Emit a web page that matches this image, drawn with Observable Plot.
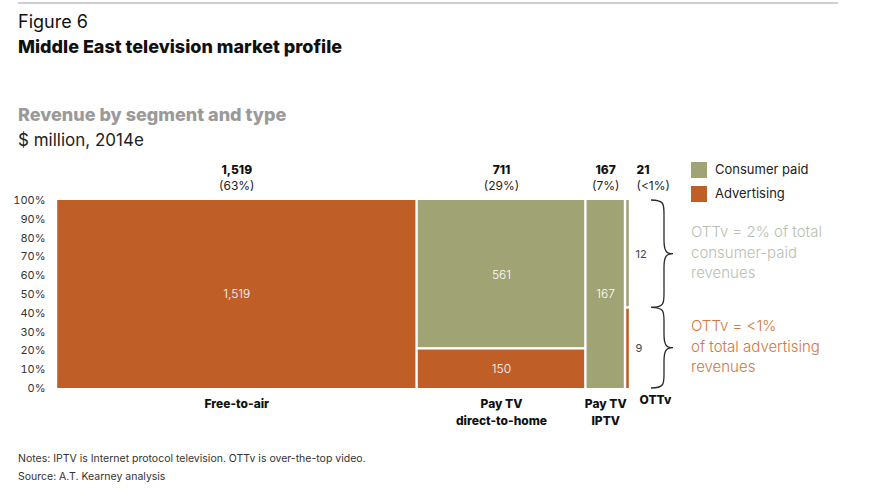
<!DOCTYPE html>
<html>
<head>
<meta charset="utf-8">
<script src="https://cdn.jsdelivr.net/npm/d3@7"></script>
<script src="https://cdn.jsdelivr.net/npm/@observablehq/plot@0.6"></script>
<style>
  body { margin: 0; background: #fff; font-family: Inter, "Noto Sans", sans-serif; color: #111; }
  #wrap { position: relative; width: 871px; height: 491px; overflow: hidden; }
  #chart { position: absolute; left: 0; top: 0; }
  .abs { position: absolute; white-space: nowrap; line-height: 1; }
  .rule { position: absolute; left: 18px; top: 2px; width: 820px; height: 2px; background: #cfcfcf; }
  .fig { left: 18px; top: 13px; font-size: 18px; }
  .title { left: 18px; top: 38px; font-size: 18px; font-weight: 800; }
  .sub { left: 18px; top: 106px; font-size: 18px; font-weight: 800; color: #9a9a9a; }
  .unit { left: 18px; top: 132px; font-size: 17px; color: #222; }
  .sw { position: absolute; width: 16px; height: 16px; }
  .leg { font-size: 13px; color: #222; }
  .note { font-size: 10.5px; color: #333; left: 18px; }
  .ann { font-size: 15px; font-weight: 300; line-height: 20.5px; left: 691px; }
</style>
</head>
<body>
<div id="wrap">
  <div id="chart"></div>
  <div class="rule"></div>
  <div class="abs fig">Figure 6</div>
  <div class="abs title">Middle East television market profile</div>
  <div class="abs sub">Revenue by segment and type</div>
  <div class="abs unit">$ million, 2014e</div>

  <div class="sw" style="left:691px;top:162px;background:#a0a374"></div>
  <div class="abs leg" style="left:715px;top:163px">Consumer paid</div>
  <div class="sw" style="left:691px;top:186px;background:#c05e28"></div>
  <div class="abs leg" style="left:715px;top:187px">Advertising</div>

  <div class="abs ann" style="top:222px;color:#b9beb2">OTTv = 2% of total<br>consumer-paid<br>revenues</div>
  <div class="abs ann" style="top:316px;color:#d2773f">OTTv = &lt;1%<br>of total advertising<br>revenues</div>

  <div class="abs note" style="top:454px">Notes: IPTV is Internet protocol television. OTTv is over-the-top video.</div>
  <div class="abs note" style="top:472px">Source: A.T. Kearney analysis</div>
</div>
<script>
// Revenue by TV segment, $ million (2014e)
const segments = ["Free-to-air", "Pay TV\ndirect-to-home", "Pay TV\nIPTV", "OTTv"];
const consumerPaid = [0, 561, 167, 12];
const advertising = [1519, 150, 0, 9];
const shareLabels = ["63%", "29%", "7%", "<1%"];
const yTicks = [0, 0.1, 0.2, 0.3, 0.4, 0.5, 0.6, 0.7, 0.8, 0.9, 1];

const colors = {consumer: "#a0a374", advertising: "#c05e28"};

// Marimekko layout: column width = segment total, height split by revenue type
let start = 0;
const columns = segments.map((name, i) => {
  const total = consumerPaid[i] + advertising[i];
  const col = {
    i, name, total,
    x1: start, x2: start + total, xm: start + total / 2,
    consumer: consumerPaid[i], advertising: advertising[i],
    adShare: advertising[i] / total,
    share: shareLabels[i]
  };
  start += total;
  return col;
});
const grandTotal = start;
const fmt = d3.format(",");

const cells = [];
for (const c of columns) {
  if (c.advertising > 0) cells.push({...c, type: "advertising", y1: 0, y2: c.adShare, value: c.advertising, split: c.consumer > 0});
  if (c.consumer > 0) cells.push({...c, type: "consumer", y1: c.adShare, y2: 1, value: c.consumer, split: c.advertising > 0});
}
const inner = cells.filter(d => d.i < 3);
const ottCells = cells.filter(d => d.i === 3);
const mainCols = columns.filter(d => d.i < 3);
const ottCol = columns.filter(d => d.i === 3);

// Curly braces next to the OTTv column, one per revenue type
function braces(index, scales, values, dimensions) {
  const c = ottCol[0];
  const x0 = scales.x(c.x2) + 21;
  const spans = [[scales.y(1), scales.y(c.adShare)], [scales.y(c.adShare), scales.y(0)]];
  const g = d3.create("svg:g").attr("fill", "none").attr("stroke", "#2a2a2a").attr("stroke-width", 1.3);
  for (const [ya, yb] of spans) {
    const ym = (ya + yb) / 2, x1 = x0 + 13, x2 = x0 + 22, r = 14;
    g.append("path").attr("d",
      `M${x0},${ya} C${x1},${ya} ${x1},${ya + 4} ${x1},${ya + r}` +
      ` L${x1},${ym - r} C${x1},${ym - 3} ${x1 + 2},${ym} ${x2},${ym}` +
      ` C${x1 + 2},${ym} ${x1},${ym + 3} ${x1},${ym + r}` +
      ` L${x1},${yb - r} C${x1},${yb - 4} ${x1},${yb} ${x0},${yb}`);
  }
  return g.node();
}

const rectOpts = (extra) => ({
  x1: "x1", x2: "x2", y1: "y1", y2: "y2",
  fill: d => colors[d.type], insetLeft: 1.2, insetRight: 1.2, ...extra
});

const plot = Plot.plot({
  width: 871,
  height: 491,
  marginLeft: 56,
  marginRight: 241,
  marginTop: 200,
  marginBottom: 103,
  style: {fontFamily: "Inter, 'Noto Sans', sans-serif", fontSize: "11px", color: "#333", background: "transparent"},
  x: {domain: [0, grandTotal], axis: null},
  y: {domain: [0, 1], axis: null},
  marks: [
    Plot.rect(cells.filter(d => !d.split), rectOpts({})),
    Plot.rect(cells.filter(d => d.split && d.type === "advertising"), rectOpts({insetTop: 1.2})),
    Plot.rect(cells.filter(d => d.split && d.type === "consumer"), rectOpts({insetBottom: 1.2})),
    Plot.axisY(yTicks, {tickSize: 0, tickPadding: 11, tickFormat: d => `${Math.round(d * 100)}%`, label: null, fontSize: 11, fill: "#333"}),
    // values inside the blocks
    Plot.text(inner, {x: "xm", y: d => (d.y1 + d.y2) / 2, text: d => fmt(d.value), fill: "white", fontSize: 12, fontWeight: 300}),
    // OTTv values beside its thin column
    Plot.text(ottCells, {x: "x2", y: d => (d.y1 + d.y2) / 2, text: d => fmt(d.value), textAnchor: "start", dx: 5, fill: "#444", fontSize: 11}),
    // column totals and shares
    Plot.text(mainCols, {x: "xm", y: 1, text: d => fmt(d.total), dy: -30, fontWeight: 800, fontSize: 12, fill: "#111"}),
    Plot.text(mainCols, {x: "xm", y: 1, text: d => `(${d.share})`, dy: -14, fontSize: 12, fill: "#222"}),
    Plot.text(ottCol, {x: "x2", y: 1, text: d => fmt(d.total), dy: -30, dx: 6, textAnchor: "start", fontWeight: 800, fontSize: 12, fill: "#111"}),
    Plot.text(ottCol, {x: "x2", y: 1, text: d => `(${d.share})`, dy: -14, dx: 6, textAnchor: "start", fontSize: 12, fill: "#222"}),
    // segment names
    Plot.text(mainCols, {x: "xm", y: 0, text: "name", dy: 7, lineAnchor: "top", lineHeight: 1.42, fontWeight: 800, fontSize: 12, fill: "#111"}),
    Plot.text(ottCol, {x: "x2", y: 0, text: "name", dy: 7, dx: 9, textAnchor: "start", lineAnchor: "top", fontWeight: 800, fontSize: 12, fill: "#111"}),
    braces
  ]
});
document.getElementById("chart").appendChild(plot);
</script>
</body>
</html>
